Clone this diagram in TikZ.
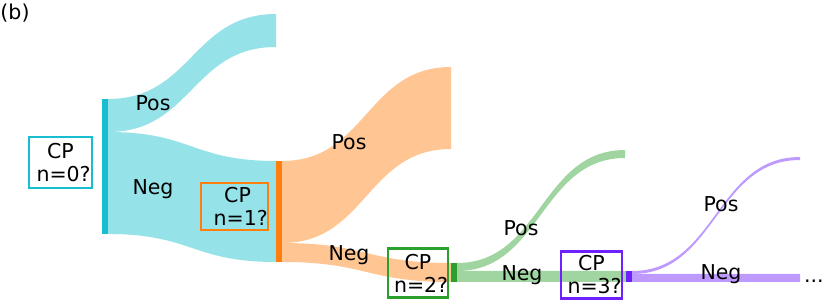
\documentclass[tikz,border=0pt]{standalone}
\usepackage{fontspec}
\setmainfont{DejaVu Sans}
\definecolor{cyanD}{HTML}{17BECF}
\definecolor{cyanL}{HTML}{96E2E9}
\definecolor{orD}{HTML}{FF7F0E}
\definecolor{orL}{HTML}{FFC592}
\definecolor{grD}{HTML}{2CA02C}
\definecolor{grL}{HTML}{A0D4A0}
\definecolor{puD}{HTML}{7020FF}
\definecolor{puL}{HTML}{BE9AFF}
% x0, ytop0, ybot0, x1, ytop1, ybot1, colour
\newcommand\flowband[7]{%
  \fill[#7] (#1,#2) .. controls ({(#1+#4)/2},#2) and ({(#1+#4)/2},#5) .. (#4,#5)
    -- (#4,#6) .. controls ({(#1+#4)/2},#6) and ({(#1+#4)/2},#3) .. (#1,#3) -- cycle;}
\tikzset{
  cpbox/.style={draw=#1, line width=2.4pt, inner sep=0pt, align=center},
  lbl/.style={inner sep=0pt},
}
\begin{document}
\begin{tikzpicture}[x=1pt,y=-1pt,font=\fontsize{20.5}{23}\selectfont]
\useasboundingbox (0,0) rectangle (830,304);
\node[lbl] (title) at (15,13) {(b)};
% flows from node 0
\flowband{108}{99}{132}{276}{14}{47}{cyanL}
\flowband{108}{132}{234}{276}{161}{262}{cyanL}
% flows from node 1
\flowband{282}{161}{243}{451}{67}{149}{orL}
\flowband{282}{243}{262}{451}{263}{282}{orL}
% flows from node 2
\flowband{457}{263}{271}{625}{150}{158}{grL}
\flowband{457}{271}{282}{626}{271}{282}{grL}
% flows from node 3
\flowband{632}{271}{274}{800}{157}{160}{puL}
\flowband{632}{274}{282}{800}{274}{282}{puL}
% node bars
\fill[cyanD] (102,99) rectangle (108,234);
\fill[orD] (276,161) rectangle (282,262);
\fill[grD] (451,263) rectangle (457,282);
\fill[puD] (626,271) rectangle (632,282);
% boxes
\node[cpbox=cyanD, fill=white, minimum width=63pt, minimum height=51pt] (cp0) at (60.5,162.5) {CP\\\hspace*{.3em}n=0?};
\node[cpbox=orD, minimum width=67pt, minimum height=47pt] (cp1) at (234.5,206.5) {\hspace*{.3em}CP\\\hspace*{.6em}n=1?};
\node[cpbox=grD, minimum width=60pt, minimum height=49pt] (cp2) at (418,273) {CP\\\hspace*{.3em}n=2?};
\node[cpbox=puD, minimum width=61pt, minimum height=47pt] (cp3) at (591.5,275) {CP\\\hspace*{.3em}n=3?};
% labels
\node[lbl] (pos0) at (153,103) {Pos};
\node[lbl] (neg0) at (153,189) {Neg};
\node[lbl] (pos1) at (349,142) {Pos};
\node[lbl] (neg1) at (349,255) {Neg};
\node[lbl] (pos2) at (521,228) {Pos};
\node[lbl] (neg2) at (522,275) {Neg};
\node[lbl] (pos3) at (721,204) {Pos};
\node[lbl] (neg3) at (721,274) {Neg};
\node[lbl, anchor=base west] (dots) at (804,283) {...};
\end{tikzpicture}
\end{document}
